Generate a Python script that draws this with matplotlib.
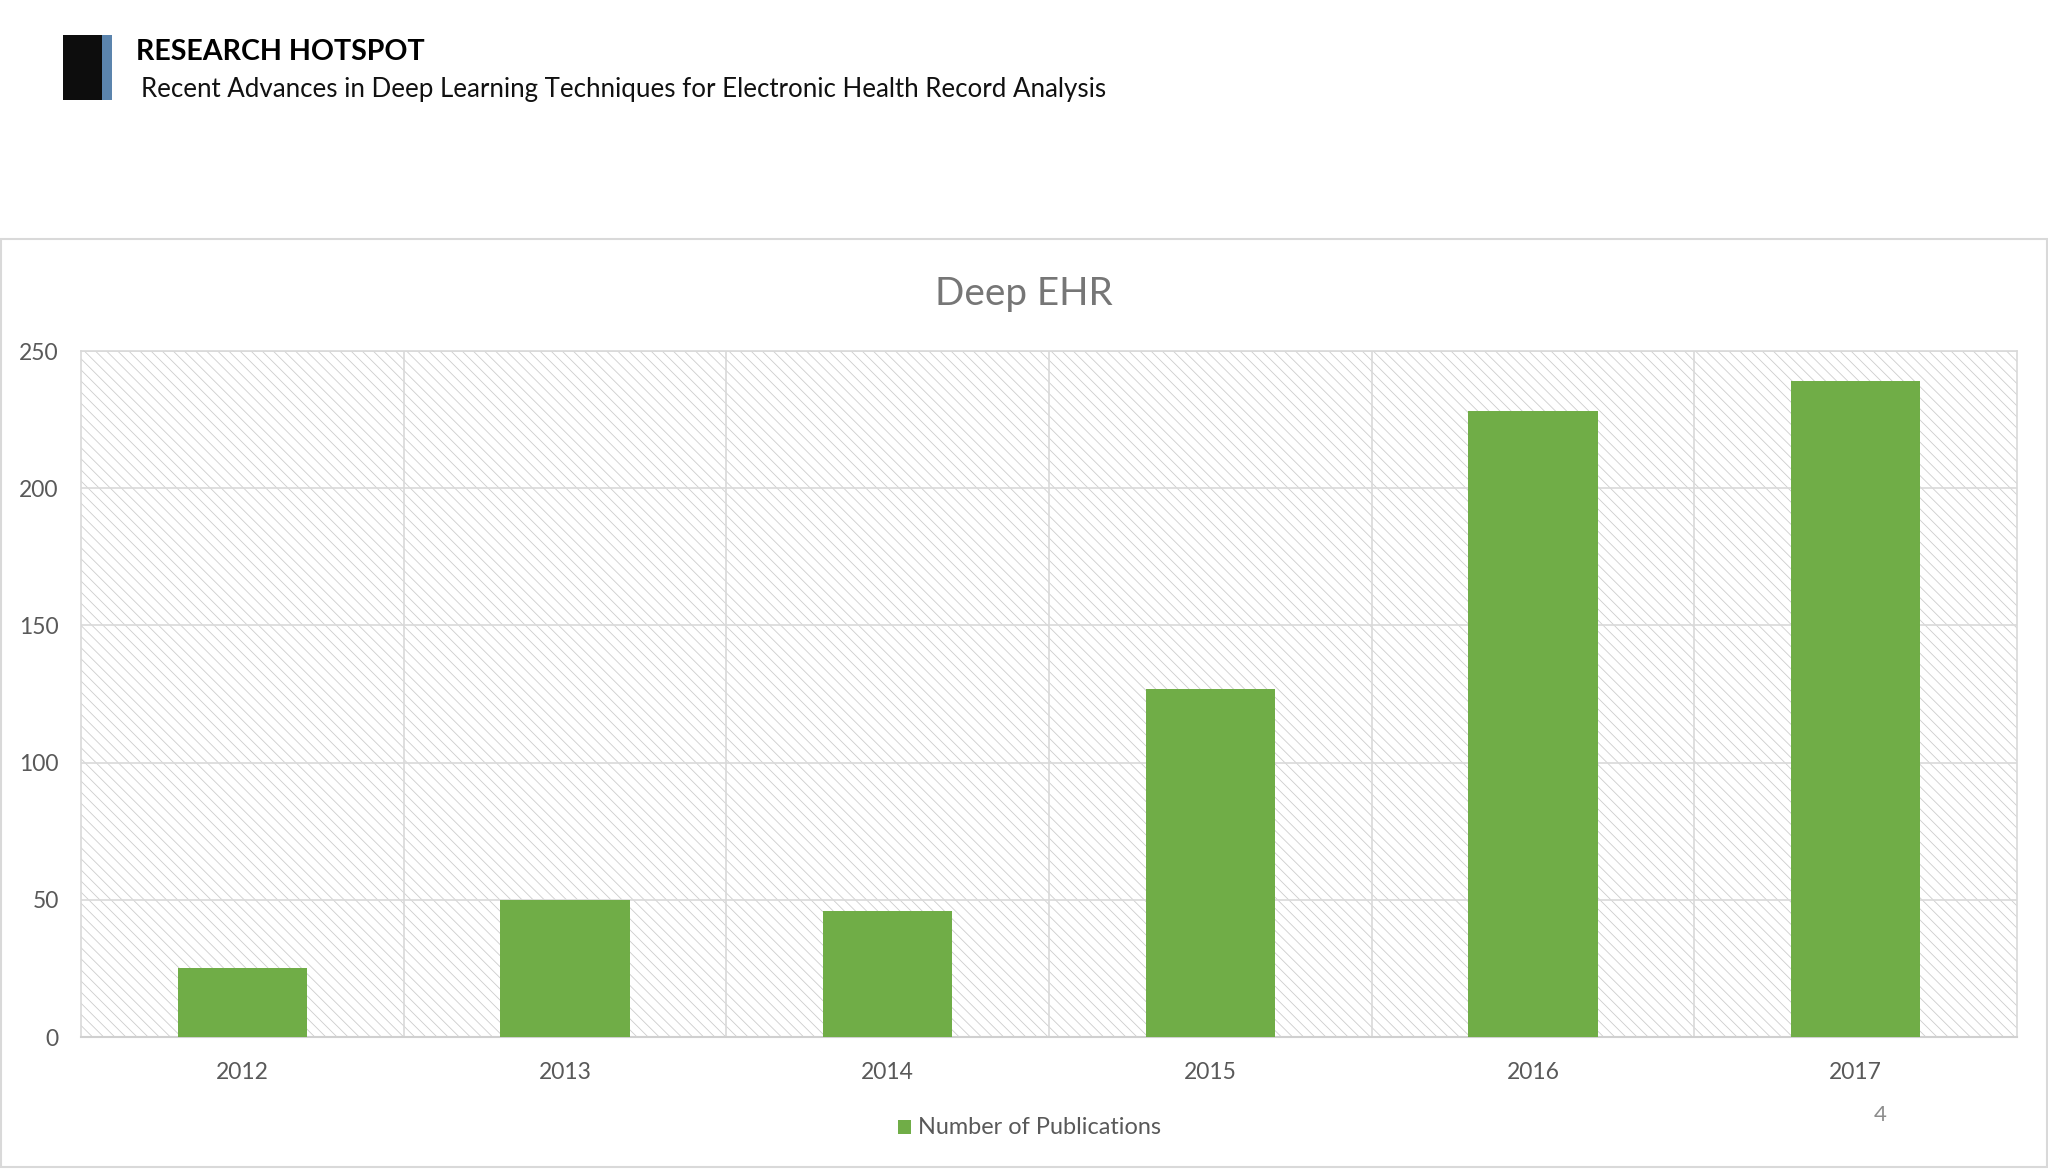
import matplotlib
matplotlib.use("Agg")
import matplotlib.pyplot as plt
from matplotlib.patches import Rectangle, Patch

# ---- data ----
years = ["2012", "2013", "2014", "2015", "2016", "2017"]
publications = [25, 50, 46, 127, 228, 239]
y_ticks = [0, 50, 100, 150, 200, 250]
series_name = "Number of Publications"
chart_title = "Deep EHR"
header_title = "RESEARCH HOTSPOT"
header_subtitle = "Recent Advances in Deep Learning Techniques for Electronic Health Record Analysis"
page_number = "4"

W, H = 2048, 1169
DPI = 100
FONT = ["Lato", "DejaVu Sans"]
plt.rcParams["font.family"] = FONT
plt.rcParams["hatch.linewidth"] = 0.6

fig = plt.figure(figsize=(W / DPI, H / DPI), dpi=DPI)
fig.patch.set_facecolor("white")

def fx(px):
    return px / W

def fy(py):
    return 1 - py / H

# header block
fig.patches.append(Rectangle((fx(63), fy(100)), fx(102) - fx(63), fy(35) - fy(100),
                             transform=fig.transFigure, facecolor="#0d0d0d", edgecolor="none"))
fig.patches.append(Rectangle((fx(102), fy(100)), fx(112) - fx(102), fy(35) - fy(100),
                             transform=fig.transFigure, facecolor="#5b84ad", edgecolor="none"))
t_head = fig.text(fx(136), fy(52), header_title, fontsize=21, fontweight="bold",
                  color="#000000", ha="left", va="center")
t_sub = fig.text(fx(141), fy(90), header_subtitle, fontsize=17,
                 color="#111111", ha="left", va="center")

# chart frame
fig.patches.append(Rectangle((fx(1), fy(1167)), fx(2047) - fx(1), fy(239) - fy(1167),
                             transform=fig.transFigure, facecolor="white",
                             edgecolor="#d9d9d9", linewidth=1.5, zorder=-5))

t_title = fig.text(fx(1024), fy(294), chart_title, fontsize=29, color="#767676",
                   ha="center", va="center")

# axes
left, right, top, bottom = 81, 2017, 351, 1037
ax = fig.add_axes([fx(left), fy(bottom), fx(right) - fx(left), fy(top) - fy(bottom)])
ax.set_zorder(2)
ax.set_facecolor("white")
bg = Rectangle((0, 0), 1, 1, transform=ax.transAxes, facecolor="white",
               edgecolor="#cdcdcd", hatch="\\\\\\", linewidth=0, zorder=0.1)
ax.add_patch(bg)

x = list(range(len(years)))
ax.bar(x, publications, width=0.4, color="#70ad47", zorder=3)

ax.set_xlim(-0.5, len(years) - 0.5)
ax.set_ylim(0, 250)
ax.set_yticks(y_ticks)
ax.set_yticklabels([str(v) for v in y_ticks])
ax.set_xticks(x)
ax.set_xticklabels(years)
ax.set_xticks([i + 0.5 for i in range(len(years) - 1)], minor=True)

ax.set_axisbelow(True)
ax.grid(axis="y", which="major", color="#d9d9d9", linewidth=1.2, zorder=0.5)
ax.grid(axis="x", which="minor", color="#d9d9d9", linewidth=1.2, zorder=0.5)
ax.grid(axis="x", which="major", visible=False)
ax.tick_params(axis="both", which="both", length=0)
ax.tick_params(axis="y", labelsize=16.5, labelcolor="#595959", pad=16)
ax.tick_params(axis="x", labelsize=16.5, labelcolor="#595959", pad=18)
for name, sp in ax.spines.items():
    sp.set_color("#d9d9d9")
    sp.set_linewidth(1.2)
ax.spines["bottom"].set_color("#d0d0d0")
ax.spines["bottom"].set_linewidth(1.5)

leg = fig.legend(handles=[Patch(facecolor="#70ad47", edgecolor="none", label=series_name)],
                 loc="center", bbox_to_anchor=(fx(1029), fy(1128)), frameon=False,
                 fontsize=16, handlelength=0.6, handleheight=0.6, handletextpad=0.3,
                 labelcolor="#595959")

fig.text(fx(1880), fy(1115), page_number, fontsize=16, color="#8c8c8c",
         ha="center", va="center")

# fit text widths to reference
fig.canvas.draw()
renderer = fig.canvas.get_renderer()

def fit(t, target):
    w = t.get_window_extent(renderer).width
    t.set_fontsize(t.get_fontsize() * target / w)

fit(t_head, 289)
fit(t_sub, 964)
fit(t_title, 177)
ltxt = leg.get_texts()[0]
w = ltxt.get_window_extent(renderer).width
for t in leg.get_texts():
    t.set_fontsize(t.get_fontsize() * 244 / w)

fig.savefig("out.png", dpi=DPI, facecolor="white")
